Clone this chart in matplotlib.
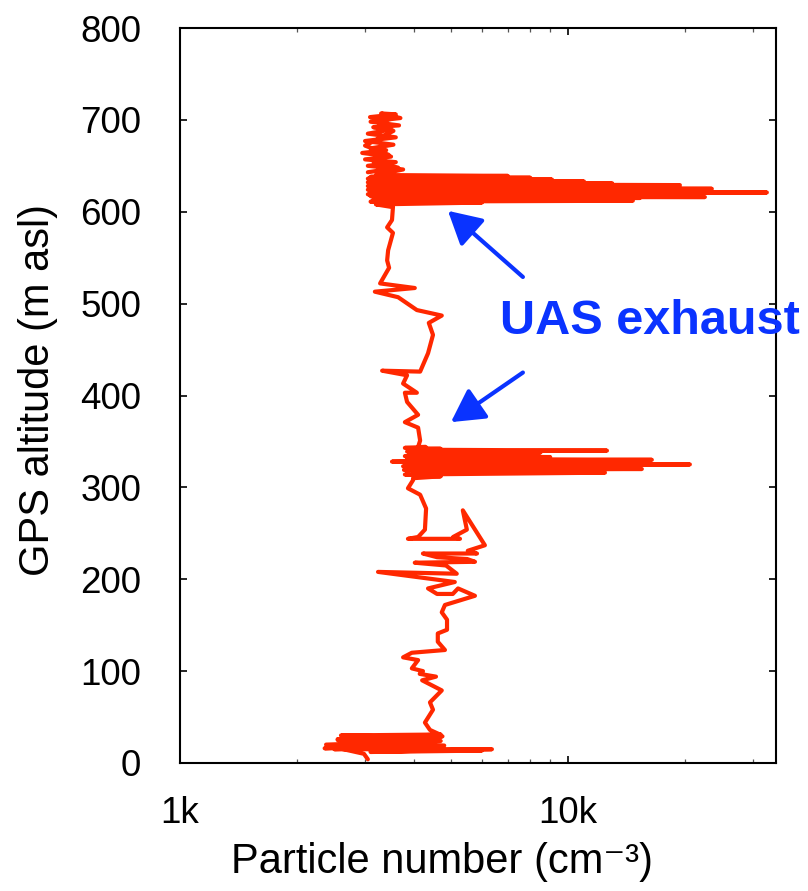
import matplotlib
matplotlib.use("Agg")
import matplotlib.pyplot as plt
from matplotlib.ticker import FixedLocator, NullFormatter

plt.rcParams['font.family'] = ['Liberation Sans', 'DejaVu Sans']

# particle number (cm-3) and GPS altitude (m asl)
# hover near the ground
gnd_pn = [3050, 2980, 2450, 4300, 2550, 4500, 2600, 4700, 2700, 4600, 2380, 4400,
          2360, 4200, 2650, 4750, 2800, 4800, 2500, 6370, 3500, 6000, 3100, 4650,
          2600, 4500, 2750, 4700, 2550, 4350, 2900, 4650, 2700, 4700, 4460]
gnd_alt = [4, 10, 18, 22, 25, 28, 30, 31, 27, 24, 20, 17,
           16, 21, 26, 29, 23, 19, 15, 15, 13, 13.5, 12, 14,
           17, 19, 22, 24, 26, 28, 29, 25, 21, 30, 27]

# climb to the first hover
up1_pn = [4680, 4410, 4280, 4490, 4410, 4730, 4210, 4570, 4150, 4230, 3960, 4110,
          3760, 3960, 4820, 4620, 4620, 4880, 4880, 4730, 4820, 5760, 5210, 5050,
          4600, 4360, 5110, 3240, 5170, 4850, 4030, 5760, 5500, 4600, 4230, 5830,
          5520, 6110, 5360, 5490, 5060, 5270, 3870, 4110, 4280, 4310, 4160, 3870,
          3990]
up1_alt = [31, 36, 44, 58, 66, 79, 90, 94, 97, 100, 103, 112,
           115, 120, 123, 132, 141, 145, 156, 164, 172, 182, 190, 184,
           184, 190, 197, 208, 206, 215, 218, 219, 222, 224, 228, 228,
           231, 237, 275, 254, 246, 244, 244, 246, 254, 277, 292, 299,
           308]

# first hover with exhaust spikes
hov1_pn = [3990, 4700, 3800, 12460, 4000, 8900, 3780, 15510, 4200, 8300, 3760, 20630,
           4100, 8700, 3520, 4600, 16460, 3850, 9000, 3800, 8000, 4200, 4760, 8500,
           3850, 12610, 3900, 4700, 3800, 4300]
hov1_alt = [310, 312, 314, 316, 317, 318, 319, 320, 321, 322, 323, 325,
            326, 327, 328, 329, 330, 331, 333, 334, 335, 336, 337, 338,
            339, 340, 341, 342, 343, 344]

# climb to the second hover
up2_pn = [4110, 4160, 4110, 3800, 4110, 3850, 3800, 4080, 3760, 3850, 3320, 4160,
          4360, 4490, 4380, 4730, 4080, 3650, 3180, 4030, 3280, 3460, 3420, 3440,
          3540, 3420, 3520, 3540]
up2_alt = [344, 351, 365, 371, 379, 393, 403, 403, 413, 422, 427, 426,
           446, 466, 479, 487, 493, 507, 513, 517, 522, 539, 547, 558,
           577, 583, 591, 605]

# second hover with exhaust spikes
hov2_pn = [3200, 6000, 3100, 14700, 3150, 15330, 3300, 22550, 3100, 12000, 3050, 14500,
           3200, 32580, 3100, 10000, 3050, 23500, 3150, 14700, 3050, 19440, 3100, 13000,
           3050, 11000, 3100, 9100, 3050, 8000, 3100, 7000, 3200]
hov2_alt = [608, 610, 611, 612, 613, 615, 615.5, 616, 617, 618, 619, 620,
            620.5, 621, 622, 623, 624, 625, 626, 627, 628, 629, 630, 631,
            632, 633, 634, 635, 636, 637, 638, 639, 640]

# top of the profile
top_pn = [3760, 3050, 3600, 3000, 3500, 2950, 3400, 3100, 3550, 3000, 3600, 3050,
          3450, 3150, 3670, 3100, 3500, 3090, 3600, 3300, 3700, 3200, 3550, 3000,
          3450, 3150, 3650, 3050]
top_alt = [646, 650, 654, 657, 660, 664, 667, 669, 673, 677, 681, 685,
           689, 692, 694, 698, 701, 703, 706, 707, 702, 699, 688, 672,
           662, 655, 648, 643]

pn = gnd_pn + up1_pn + hov1_pn + up2_pn + hov2_pn + top_pn
alt = gnd_alt + up1_alt + hov1_alt + up2_alt + hov2_alt + top_alt

blue = '#0a33ff'
red = '#ff2800'

fig = plt.figure(figsize=(8.08, 8.91), dpi=100)
ax = fig.add_axes([180/808, 1 - 763/891, 596/808, 735/891])

ax.plot(pn, alt, color=red, lw=3, solid_joinstyle='round', solid_capstyle='round')

ax.set_xscale('log')
ax.set_xlim(1000, 34400)
ax.set_ylim(0, 800)
ax.xaxis.set_major_locator(FixedLocator([1000, 10000]))
ax.set_xticklabels(['1k', '10k'])
ax.xaxis.set_minor_locator(FixedLocator([2000, 3000, 4000, 5000, 6000, 7000, 8000,
                                         9000, 20000, 30000]))
ax.xaxis.set_minor_formatter(NullFormatter())
ax.set_yticks(range(0, 801, 100))

for s in ax.spines.values():
    s.set_linewidth(1.5)
ax.tick_params(which='both', direction='in', top=True, right=True, labelsize=26.5)
ax.tick_params(which='major', length=5, width=1.2)
ax.tick_params(which='minor', length=3, width=0.9, color='#555555')
ax.tick_params(axis='x', pad=24)
ax.tick_params(axis='y', pad=28)

ax.set_xlabel('Particle number (cm\u207b\u00b3)', fontsize=30)
ax.set_ylabel('GPS altitude (m asl)', fontsize=30)
ax.xaxis.set_label_coords(0.44, -0.108)
ax.yaxis.set_label_coords(-0.205, 0.507)

ax.text(6680, 480, 'UAS exhaust', color=blue, fontsize=35, fontweight='bold',
        ha='left', va='center', clip_on=False)
arrow = dict(arrowstyle='-|>,head_length=1.0,head_width=0.55', color=blue, lw=3,
             shrinkA=0, shrinkB=0, mutation_scale=20)
ax.annotate('', xy=(4907, 601), xytext=(7657, 529), arrowprops=arrow)
ax.annotate('', xy=(4995, 371), xytext=(7657, 425), arrowprops=arrow)

fig.savefig('out.png', dpi=100)
